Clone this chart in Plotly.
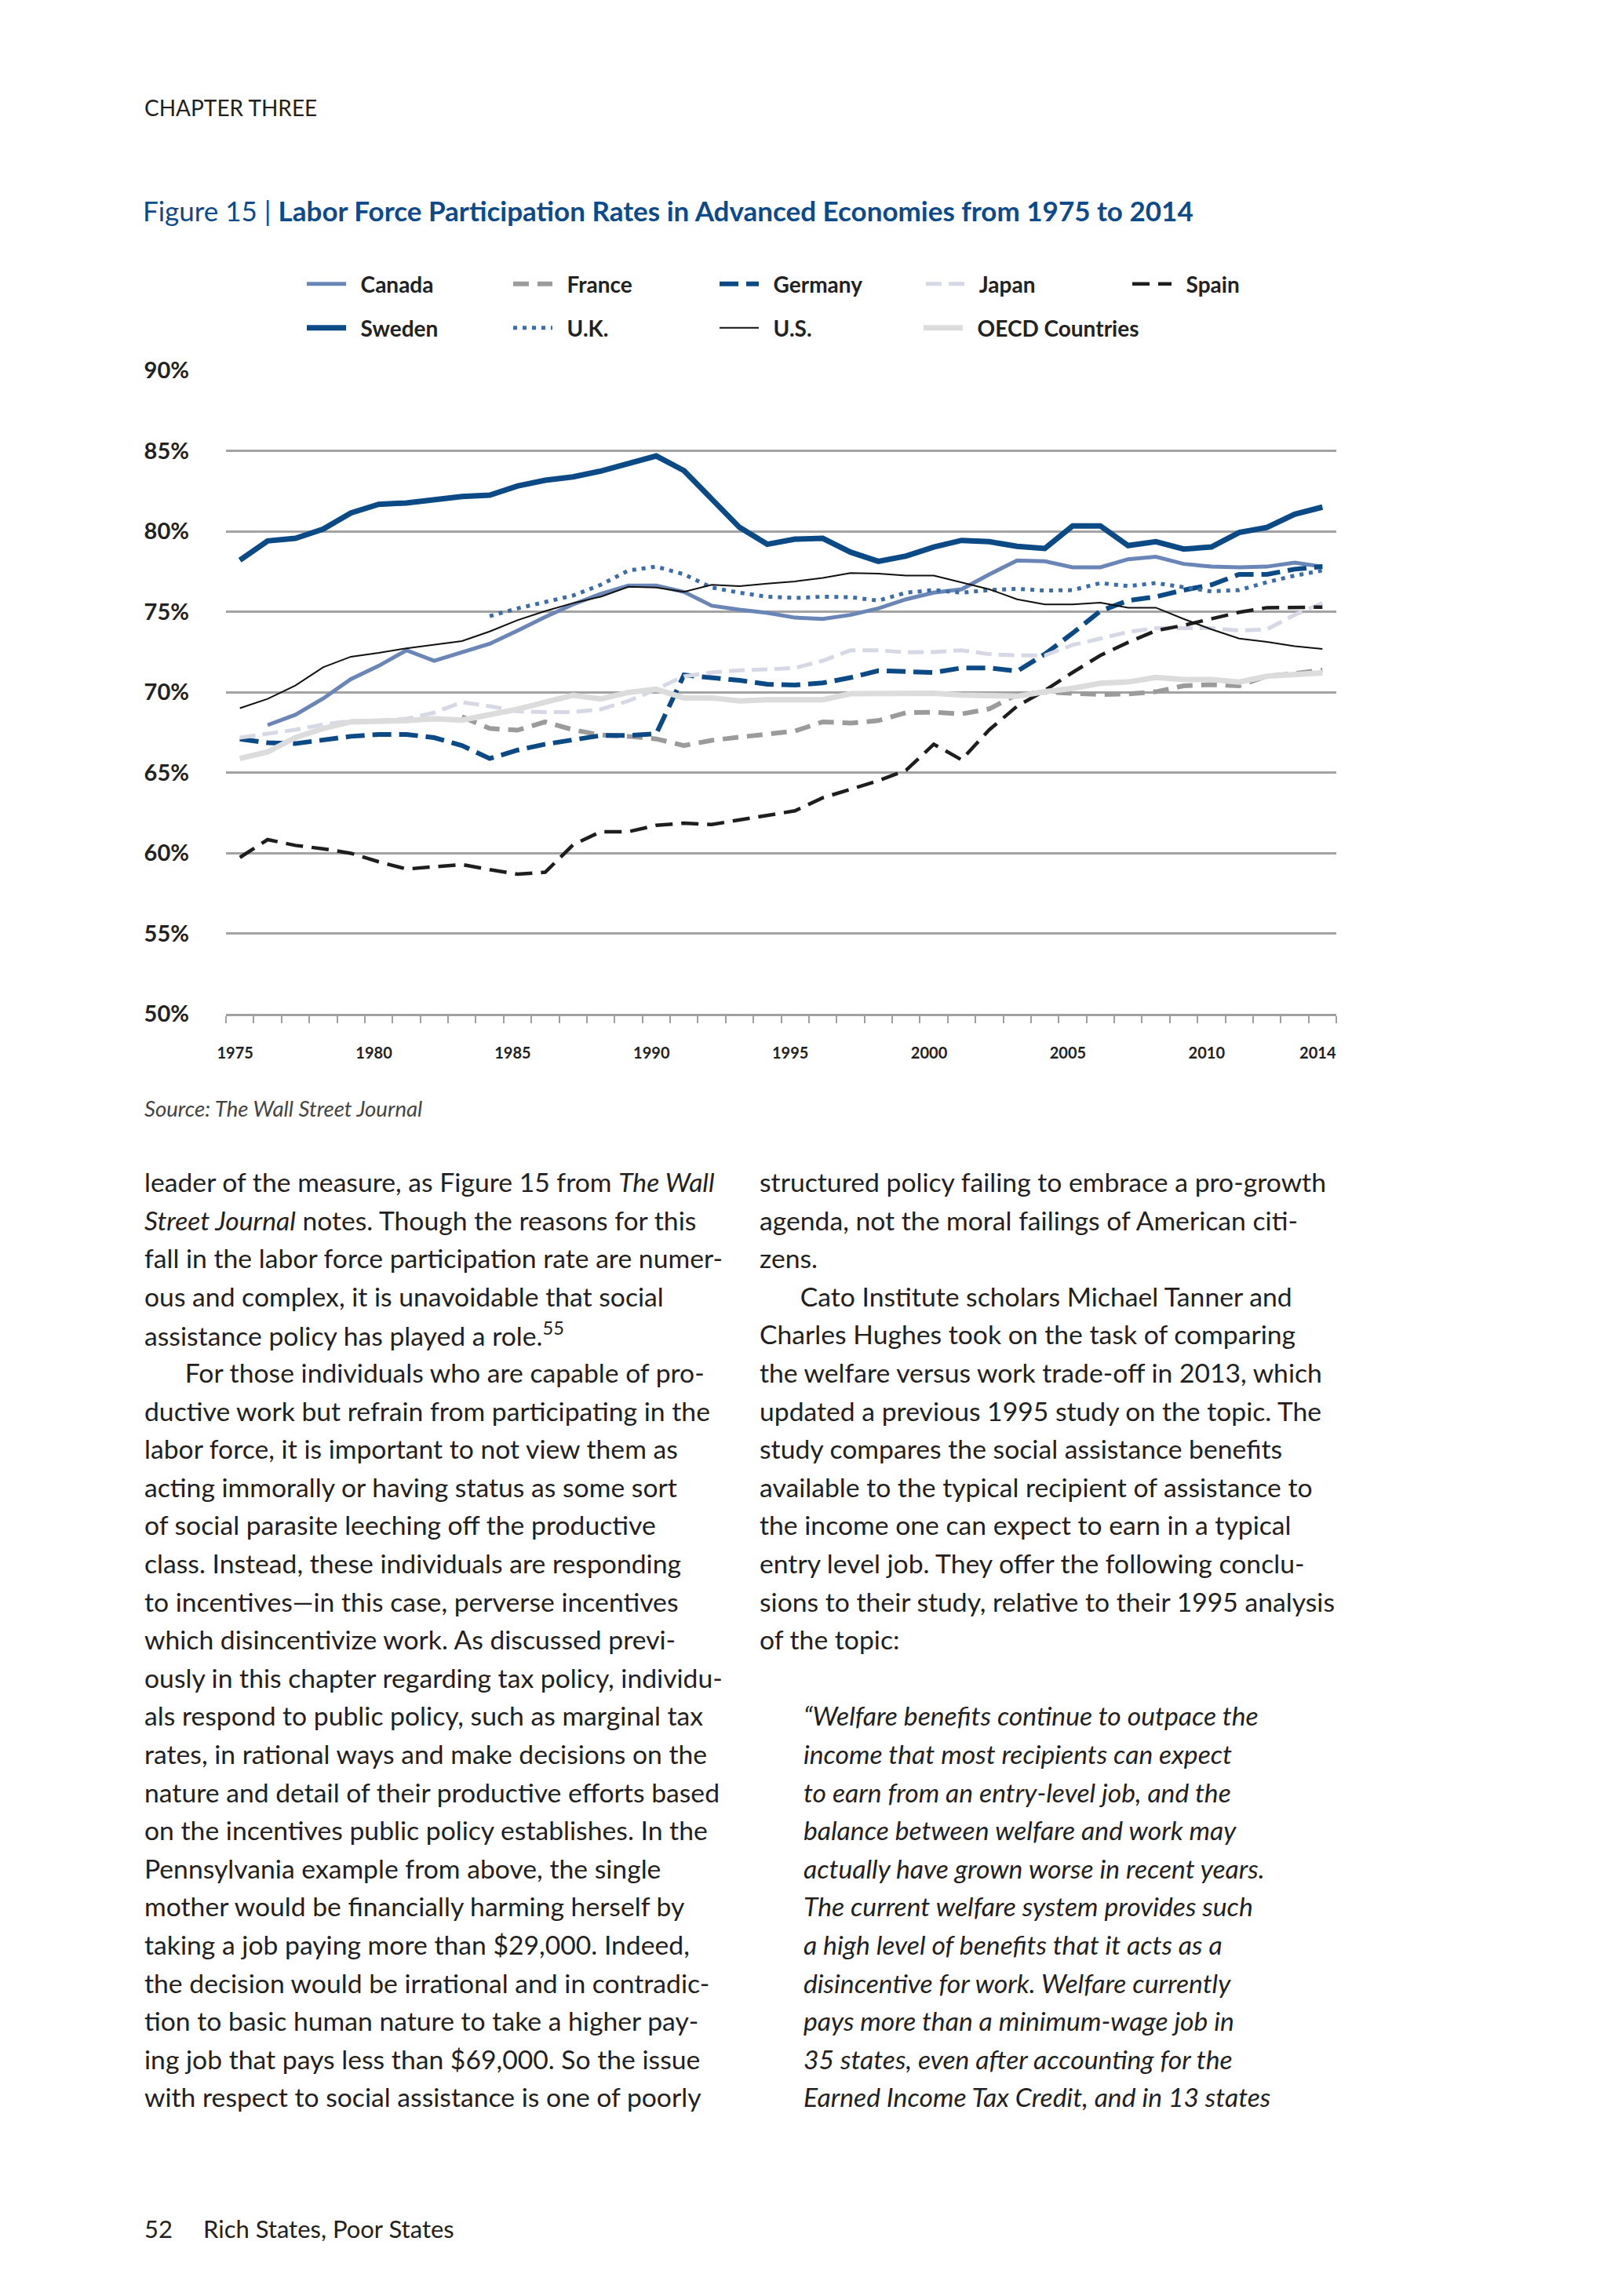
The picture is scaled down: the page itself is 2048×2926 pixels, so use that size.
import plotly.graph_objects as go

years = list(range(1975, 2015))

canada = [None, 67.95, 68.59, 69.6, 70.81, 71.63, 72.6, 71.95, 72.49, 73.0,
          73.82, 74.67, 75.45, 76.1, 76.62, 76.62, 76.23, 75.37, 75.12, 74.93,
          74.63, 74.55, 74.8, 75.2, 75.77, 76.18, 76.39, 77.32, 78.18, 78.13,
          77.76, 77.76, 78.26, 78.41, 77.97, 77.8, 77.76, 77.8, 78.05, 77.8]
france = [None, None, None, None, None, None, None, None, 68.47, 67.74,
          67.63, 68.15, 67.66, 67.33, 67.25, 67.09, 66.68, 67.0, 67.2, 67.37,
          67.58, 68.15, 68.07, 68.23, 68.72, 68.75, 68.64, 68.96, 69.85, 70.0,
          69.93, 69.85, 69.89, 70.02, 70.39, 70.46, 70.39, 70.99, 71.15, 71.37]
germany = [67.09, 66.85, 66.8, 67.0, 67.25, 67.37, 67.37, 67.17, 66.68, 65.87,
           66.39, 66.76, 67.0, 67.3, 67.3, 67.41, 71.06, 70.9, 70.73, 70.49,
           70.44, 70.57, 70.9, 71.33, 71.25, 71.22, 71.5, 71.5, 71.3, 72.36,
           73.66, 75.04, 75.69, 75.93, 76.34, 76.67, 77.32, 77.32, 77.64, 77.8]
japan = [67.17, 67.41, 67.66, 67.98, 68.2, 68.23, 68.34, 68.72, 69.37, 69.12,
         68.8, 68.76, 68.76, 68.93, 69.45, 70.18, 70.98, 71.22, 71.35, 71.41,
         71.5, 71.95, 72.6, 72.6, 72.47, 72.49, 72.6, 72.36, 72.28, 72.28,
         72.93, 73.33, 73.74, 73.98, 73.98, 73.98, 73.82, 73.9, 74.8, 75.53]
spain = [59.72, 60.83, 60.47, 60.26, 59.98, 59.45, 59.0, 59.12, 59.28, 58.96,
         58.68, 58.8, 60.5, 61.32, 61.32, 61.72, 61.85, 61.77, 62.05, 62.37,
         62.62, 63.43, 63.95, 64.49, 65.14, 66.76, 65.79, 67.66, 69.12, 70.1,
         71.22, 72.28, 73.09, 73.82, 74.15, 74.55, 74.96, 75.25, 75.28, 75.28]
sweden = [78.2, 79.4, 79.56, 80.13, 81.14, 81.67, 81.76, 81.95, 82.16, 82.24,
          82.81, 83.17, 83.38, 83.74, 84.23, 84.68, 83.77, 82.03, 80.24, 79.19,
          79.51, 79.56, 78.7, 78.13, 78.46, 79.02, 79.43, 79.35, 79.06, 78.93,
          80.33, 80.33, 79.11, 79.35, 78.89, 79.02, 79.92, 80.24, 81.06, 81.5]
uk = [None, None, None, None, None, None, None, None, None, 74.72,
      75.2, 75.6, 76.0, 76.67, 77.56, 77.8, 77.32, 76.5, 76.18, 75.93,
      75.85, 75.93, 75.9, 75.69, 76.18, 76.34, 76.18, 76.34, 76.42, 76.31,
      76.34, 76.78, 76.59, 76.78, 76.5, 76.26, 76.34, 76.83, 77.24, 77.56]
us = [69.0, 69.58, 70.41, 71.54, 72.2, 72.44, 72.72, 72.96, 73.17, 73.77,
      74.47, 75.04, 75.53, 75.93, 76.55, 76.5, 76.23, 76.67, 76.59, 76.75,
      76.88, 77.1, 77.4, 77.37, 77.24, 77.24, 76.83, 76.39, 75.77, 75.45,
      75.45, 75.56, 75.25, 75.25, 74.55, 73.9, 73.33, 73.12, 72.85, 72.68]
oecd = [65.87, 66.28, 67.17, 67.74, 68.15, 68.15, 68.23, 68.34, 68.26, 68.6,
        68.93, 69.37, 69.8, 69.58, 69.98, 70.18, 69.64, 69.64, 69.45, 69.53,
        69.53, 69.53, 69.9, 69.93, 69.93, 69.93, 69.82, 69.82, 69.74, 70.02,
        70.23, 70.55, 70.63, 70.91, 70.78, 70.78, 70.62, 70.99, 71.1, 71.2]

x_tick_vals = [1975, 1980, 1985, 1990, 1995, 2000, 2005, 2010, 2014]
y_tick_vals = [50, 55, 60, 65, 70, 75, 80, 85, 90]
y_tick_text = ["50%", "55%", "60%", "65%", "70%", "75%", "80%", "85%", "90%"]

series = [
    ("Canada", canada, "#6a86b6", 5, "solid", "legend"),
    ("France", france, "#9b9b9b", 6, "20px,11px", "legend"),
    ("Germany", germany, "#0b4a85", 6, "24px,10px", "legend"),
    ("Japan", japan, "#d6d8e6", 5, "20px,9px", "legend"),
    ("Spain", spain, "#1e1e1e", 4.5, "22px,11px", "legend"),
    ("Sweden", sweden, "#0b4a85", 7, "solid", "legend2"),
    ("U.K.", uk, "#3d6da6", 5, "5px,7px", "legend2"),
    ("U.S.", us, "#111111", 2, "solid", "legend2"),
    ("OECD Countries", oecd, "#dcdcdc", 7, "solid", "legend3"),
]

# page offset (browser body margin)
OFF = 8
W, H = 2048 - 2 * OFF, 2926 - 2 * OFF
# plot area in page pixels
PL, PR, PT, PB = 288, 1703, 472, 1292
PLf, PRf, PTf, PBf = PL - OFF, PR - OFF, PT - OFF, PB - OFF


def xp(px):
    return (px - PL) / (PR - PL)


def yp(py):
    return (PB - py) / (PB - PT)


fig = go.Figure()
for name, vals, color, width, dash, lg in series:
    fig.add_trace(go.Scatter(
        x=years, y=vals, name="\u00a0\u00a0" + name, mode="lines",
        line=dict(color=color, width=width, dash=dash),
        connectgaps=False, legend=lg,
    ))

body_font = "Lato"
TXT = "#231f20"

left_lines = [
    "leader of the measure, as Figure 15 from <i>The Wall</i>",
    "<i>Street Journal</i> notes. Though the reasons for this",
    "fall in the labor force participation rate are numer-",
    "ous and complex, it is unavoidable that social",
    "assistance policy has played a role.<sup>55</sup>",
    "      For those individuals who are capable of pro-",
    "ductive work but refrain from participating in the",
    "labor force, it is important to not view them as",
    "acting immorally or having status as some sort",
    "of social parasite leeching off the productive",
    "class. Instead, these individuals are responding",
    "to incentives\u2014in this case, perverse incentives",
    "which disincentivize work. As discussed previ-",
    "ously in this chapter regarding tax policy, individu-",
    "als respond to public policy, such as marginal tax",
    "rates, in rational ways and make decisions on the",
    "nature and detail of their productive efforts based",
    "on the incentives public policy establishes. In the",
    "Pennsylvania example from above, the single",
    "mother would be financially harming herself by",
    "taking a job paying more than $29,000. Indeed,",
    "the decision would be irrational and in contradic-",
    "tion to basic human nature to take a higher pay-",
    "ing job that pays less than $69,000. So the issue",
    "with respect to social assistance is one of poorly",
]
right_lines = [
    "structured policy failing to embrace a pro-growth",
    "agenda, not the moral failings of American citi-",
    "zens.",
    "      Cato Institute scholars Michael Tanner and",
    "Charles Hughes took on the task of comparing",
    "the welfare versus work trade-off in 2013, which",
    "updated a previous 1995 study on the topic. The",
    "study compares the social assistance benefits",
    "available to the typical recipient of assistance to",
    "the income one can expect to earn in a typical",
    "entry level job. They offer the following conclu-",
    "sions to their study, relative to their 1995 analysis",
    "of the topic:",
]
quote_lines = [
    "\u201cWelfare benefits continue to outpace the",
    "income that most recipients can expect",
    "to earn from an entry-level job, and the",
    "balance between welfare and work may",
    "actually have grown worse in recent years.",
    "The current welfare system provides such",
    "a high level of benefits that it acts as a",
    "disincentive for work. Welfare currently",
    "pays more than a minimum-wage job in",
    "35 states, even after accounting for the",
    "Earned Income Tax Credit, and in 13 states",
]

ann = []


def add_text(text, px, py, size, color=TXT, family=body_font, anchor="left"):
    ann.append(dict(text=text, x=xp(px), y=yp(py), xref="paper", yref="paper",
                    xanchor=anchor, yanchor="middle", showarrow=False,
                    font=dict(family=family, size=size, color=color)))


add_text("CHAPTER THREE", 182, 137, 28)
add_text("Figure 15 | <b>Labor Force Participation Rates in Advanced Economies from 1975 to 2014</b>",
         180, 268, 35, color="#0d4a8a")
add_text("<i>Source: The Wall Street Journal</i>", 182, 1412, 27.6, color="#444444")

LINE0, LSTEP, BSIZE = 1506, 48.6, 33.7
for i, t in enumerate(left_lines):
    add_text(t, 182, LINE0 + i * LSTEP, BSIZE)
for i, t in enumerate(right_lines):
    add_text(t, 966, LINE0 + i * LSTEP, BSIZE)
for i, t in enumerate(quote_lines):
    add_text("<i>" + t + "</i>", 1022, LINE0 + (i + 14) * LSTEP, BSIZE)
add_text("52", 182, 2840, 31)
add_text("Rich States, Poor States", 257, 2840, 31)

leg_common = dict(orientation="h", xanchor="left", yanchor="middle",
                  font=dict(family="Lato", size=28, color="#222222", weight="bold"),
                  bgcolor="rgba(0,0,0,0)", entrywidthmode="pixels",
                  itemwidth=50, tracegroupgap=0)

COL0, COLSTEP = 386, 262

fig.update_layout(
    width=W, height=H,
    margin=dict(l=PLf, r=W - PRf, t=PTf, b=H - PBf, pad=0),
    paper_bgcolor="white", plot_bgcolor="white",
    showlegend=True,
    legend=dict(x=xp(COL0), y=yp(362), entrywidth=198, **leg_common),
    legend2=dict(x=xp(COL0), y=yp(418), entrywidth=198, **leg_common),
    legend3=dict(x=xp(COL0 + 3 * COLSTEP), y=yp(418), entrywidth=300, **leg_common),
    annotations=ann,
    xaxis=dict(
        range=[1974.5, 2014.5], tickmode="array", tickvals=x_tick_vals,
        ticks="", showgrid=False, zeroline=False,
        showline=True, linecolor="#a0a0a0", linewidth=3,
        tickfont=dict(family="Lato", size=20, color="#222222", weight="bold"),
        ticklabelstandoff=30, ticklabelshift=-6,
        minor=dict(tick0=1974.5, dtick=1, ticks="outside", ticklen=9,
                   tickcolor="#a0a0a0", tickwidth=2, showgrid=False),
        fixedrange=True,
    ),
    yaxis=dict(
        range=[50, 90], tickmode="array", tickvals=y_tick_vals, ticktext=y_tick_text,
        ticks="", showgrid=True, gridcolor="#a3a3a3", gridwidth=2.5,
        zeroline=False, showline=False,
        tickfont=dict(family="Lato", size=29, color="#222222", weight="bold"),
        ticklabelstandoff=46,
        fixedrange=True,
    ),
)

fig.write_html("out.html")
